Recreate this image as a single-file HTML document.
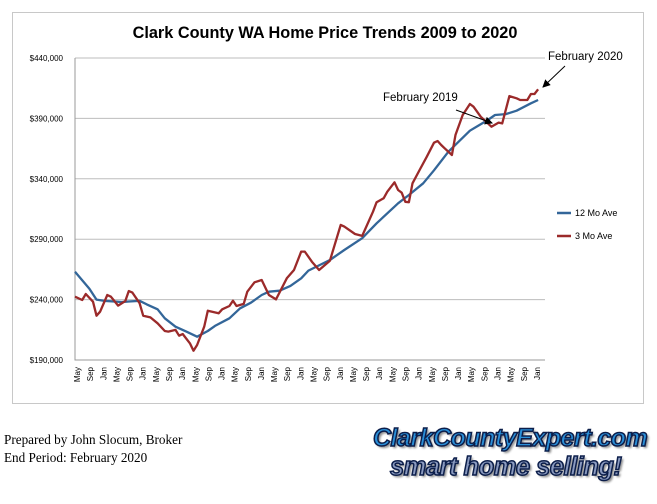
<!DOCTYPE html>
<html><head><meta charset="utf-8"><style>
body{margin:0;width:657px;height:504px;background:#fff;overflow:hidden;position:relative;font-family:"Liberation Sans",sans-serif}
.foot{position:absolute;left:4px;font-family:"Liberation Serif",serif;font-size:13.2px;color:#000}
.logo{position:absolute;font-family:"Liberation Sans",sans-serif;font-weight:bold;font-style:italic;color:#2a8fd8;-webkit-text-stroke:1.5px #0c1e4a;letter-spacing:-0.5px;text-shadow:2px 2px 2px #888}
</style></head><body>
<svg id="chart" width="657" height="410" style="position:absolute;left:0;top:0">
<rect x="12.5" y="12.5" width="631" height="391" fill="#fff" stroke="#c8c8c8"/>
<text x="325" y="38" text-anchor="middle" font-size="16.3" font-weight="bold" fill="#000">Clark County WA Home Price Trends 2009 to 2020</text>
<g id="grid"></g><g id="series"></g>
<g>
<line x1="557" y1="213" x2="571" y2="213" stroke="#336699" stroke-width="2.5"/>
<text x="575" y="216" font-size="9" fill="#000">12 Mo Ave</text>
<line x1="557" y1="236" x2="571" y2="236" stroke="#9b2a2a" stroke-width="2.5"/>
<text x="575" y="239" font-size="9" fill="#000">3 Mo Ave</text>
</g>
<defs><marker id="ah" markerWidth="8" markerHeight="8" refX="7" refY="4" orient="auto"><path d="M0,0L8,4L0,8z" fill="#000"/></marker></defs>
<text x="548" y="60" font-size="11.5" fill="#000">February 2020</text>
<line x1="565" y1="66" x2="543" y2="87" stroke="#000" marker-end="url(#ah)"/>
<text x="383" y="101" font-size="11.5" fill="#000">February 2019</text>
<line x1="456" y1="110" x2="492" y2="123" stroke="#000" marker-end="url(#ah)"/>
</svg>
<div class="foot" style="top:432px">Prepared by John Slocum, Broker</div>
<div class="foot" style="top:450px">End Period: February 2020</div>
<div class="logo" style="left:373px;top:424px;font-size:25px">ClarkCountyExpert.com</div>
<div class="logo" style="left:390px;top:453px;font-size:25.5px;color:#8a9ac0">smart home selling!</div>
<script>
const yTicks=[190000,240000,290000,340000,390000,440000];
const xTickLabels=["May","Sep","Jan"];
const ma12Months=[0,2,4,6,8,13,18,20,23,25,28,31,34,37,39,43,46,49,52,54,57,60,63,65,71,75,80,84,90,93,97,100,104,110,115,117,120,123,127,129];
const ma12Values=[263,256,249,240,239,238,239,236,232,224.5,217.6,213.5,209.3,214,218.2,224.5,232.8,237.4,243.8,246.5,247.4,251.3,257.6,264,272.8,281.1,290.8,303.2,319.7,326.6,336.3,347,362.4,379.8,388.7,392.8,393.6,396.4,402.5,405.2];
const ma3Months=[0,2,3,5,6,7,9,10,12,14,15,16,18,19,21,23,25,26,28,29,30,32,33,34,36,37,40,41,43,44,45,47,48,50,52,54,56,59,61,63,64,66,68,71,74,75,78,80,83,84,86,87,89,90,91,92,93,94,96,98,100,101,102,103,105,106,108,110,111,113,116,118,119,121,123,124,126,127,128,129];
const ma3Values=[242.4,239.7,244.6,238.3,226.7,230,243.8,242.4,235,238.8,247.1,245.8,237,226.7,225.3,220.4,214,213.5,214.9,210.1,211.5,203.8,197.7,202.4,217.6,230.8,228.7,232,234.7,239.1,234.7,236.4,246.5,254.3,256.2,243.8,240.2,257.6,264.5,279.7,279.7,271.4,264.5,272.2,301.8,300.4,294.3,292.7,312.8,320.6,323.9,329.3,337.1,330.7,328.5,321,320.6,336.3,347.3,358.3,369.9,371.3,368,365.2,359.7,376.3,392.8,401.9,399.7,391.4,383.1,386.5,385.9,408.5,406.6,405.2,405.2,410.2,410.2,414.1];
const NS="http://www.w3.org/2000/svg";
const X0=75,DX=3.59,Y0=360,YT=58,VMIN=190000,VMAX=440000;
const LX0=77,LDX=13.14;
function xs(m){return X0+m*DX;}
function ys(v){return Y0-(v-VMIN)/(VMAX-VMIN)*(Y0-YT);}
function mk(t,a,p){const e=document.createElementNS(NS,t);for(const k in a)e.setAttribute(k,a[k]);p.appendChild(e);return e;}
const grid=document.getElementById('grid');
yTicks.forEach(v=>{
 if(v>VMIN){const l=mk('line',{x1:X0,x2:545,y1:ys(v),y2:ys(v),stroke:'#bdbdbd'},grid);
 
 }
 const t=mk('text',{x:63,y:ys(v)+3,'text-anchor':'end','font-size':'8',fill:'#000'},grid);
 
 
 t.textContent='$'+v.toLocaleString('en-US');
});
const ax=mk('path',{d:`M${X0},${YT}V${Y0}H545`,stroke:'#999',fill:'none'},grid);


for(let i=0;i<36;i++){
 const x=LX0+i*LDX+3;
 const t=mk('text',{x:x,y:367,'font-size':'8',fill:'#000','text-anchor':'end',transform:`rotate(-90 ${x} 367)`},grid);
 
 
 t.textContent=xTickLabels[i%3];
}
const ser=document.getElementById('series');
function line(ms,vs,col,name){
 const d=ms.map((m,i)=>(i?'L':'M')+xs(m).toFixed(1)+','+ys(vs[i]*1000).toFixed(1)).join('');
 const p=mk('path',{d:d,stroke:col,'stroke-width':'2.3',fill:'none','stroke-linejoin':'round'},ser);
 
 
}
line(ma12Months,ma12Values,'#336699','line-12-mo-ave');
line(ma3Months,ma3Values,'#9b2a2a','line-3-mo-ave');
</script>
</body></html>
